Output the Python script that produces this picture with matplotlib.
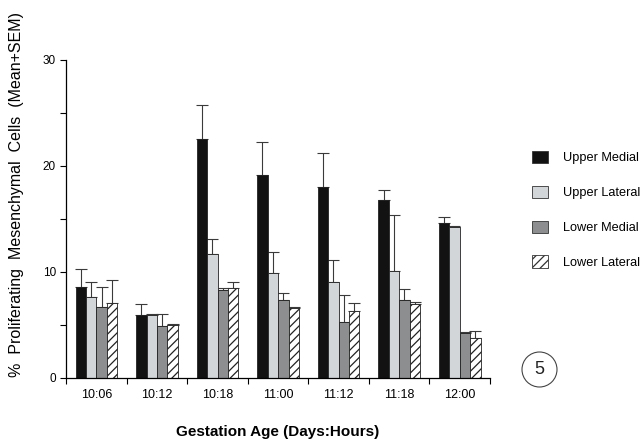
import matplotlib
matplotlib.use("Agg")
import matplotlib.pyplot as plt
import numpy as np
from matplotlib.patches import Patch, Circle

plt.rcParams['font.family'] = ['Liberation Sans', 'DejaVu Sans']
plt.rcParams['hatch.linewidth'] = 0.9

categories = ["10:06", "10:12", "10:18", "11:00", "11:12", "11:18", "12:00"]
series = ["Upper Medial", "Upper Lateral", "Lower Medial", "Lower Lateral"]
upper_medial = [8.6, 5.95, 22.55, 19.1, 17.95, 16.76, 14.65]
upper_medial_sem = [1.7, 1.0, 3.2, 3.1, 3.25, 1.0, 0.55]
upper_lateral = [7.6, 5.9, 11.67, 9.87, 9.0, 10.12, 14.18]
upper_lateral_sem = [1.45, 0.1, 1.45, 2.0, 2.15, 5.2, 0.15]
lower_medial = [6.7, 4.9, 8.3, 7.3, 5.28, 7.3, 4.2]
lower_medial_sem = [1.9, 1.1, 0.2, 0.75, 2.5, 1.1, 0.15]
lower_lateral = [7.1, 5.0, 8.5, 6.63, 6.32, 6.95, 3.74]
lower_lateral_sem = [2.15, 0.1, 0.55, 0.05, 0.72, 0.25, 0.7]
yticks = [0, 10, 20, 30]

values = [upper_medial, upper_lateral, lower_medial, lower_lateral]
sems = [upper_medial_sem, upper_lateral_sem, lower_medial_sem, lower_lateral_sem]
colors = ["#121212", "#d3d6d9", "#8c8e90", "white"]
hatches = [None, None, None, "////"]

fig = plt.figure(figsize=(6.43, 4.42), dpi=100)
ax = fig.add_axes([0.103, 0.145, 0.659, 0.72])

x = np.arange(len(categories))
w = 0.172
for i, (vals, err) in enumerate(zip(values, sems)):
    pos = x + (i - 1.5) * w
    ax.bar(pos, vals, width=w, color=colors[i], edgecolor="#222222",
           linewidth=0.6, hatch=hatches[i], zorder=2)
    ax.errorbar(pos, vals, yerr=[np.zeros(len(vals)), err], fmt="none",
                ecolor="#3a3a3a", elinewidth=0.8, capsize=4, capthick=0.8, zorder=1)

ax.set_xlim(-0.5, len(categories) - 0.5)
ax.set_ylim(0, 30)
ax.set_yticks(yticks)
ax.set_yticks([5, 15, 25], minor=True)
ax.set_yticklabels([str(t) for t in yticks], fontsize=8.5)
ax.set_xticks(x)
ax.set_xticklabels(categories, fontsize=9)
ax.set_xticks(np.arange(-0.5, len(categories)), minor=True)
ax.tick_params(axis="x", which="major", length=0, pad=8)
ax.tick_params(axis="x", which="minor", length=4, direction="out", width=0.8)
ax.tick_params(axis="y", which="both", length=4, direction="out", width=0.8)
for s in ["top", "right"]:
    ax.spines[s].set_visible(False)
ax.spines["left"].set_linewidth(0.9)
ax.spines["bottom"].set_linewidth(0.9)

ax.set_ylabel("%  Proliferating  Mesenchymal  Cells  (Mean+SEM)", fontsize=11.5)
ax.yaxis.set_label_coords(-0.1, 0.575)
ax.set_xlabel("Gestation Age (Days:Hours)", fontsize=11, fontweight="bold", labelpad=17)

handles = [Patch(facecolor=colors[i], edgecolor="#333333", linewidth=0.6, hatch=hatches[i])
           for i in range(4)]
fig.legend(handles, series, loc="upper left", bbox_to_anchor=(0.8196, 0.67),
           frameon=False, fontsize=9.2, handlelength=1.25, handleheight=1.1,
           labelspacing=1.67, handletextpad=1.17, borderaxespad=0)

circ = Circle((5.395, 4.42 - 3.695), radius=0.175, transform=fig.dpi_scale_trans,
              facecolor="none", edgecolor="#444444", linewidth=0.8)
fig.patches.append(circ)
fig.text(539.5 / 643, 1 - 369.5 / 442, "5", ha="center", va="center", fontsize=13, color="#222222")

fig.savefig("out.png", dpi=100)
